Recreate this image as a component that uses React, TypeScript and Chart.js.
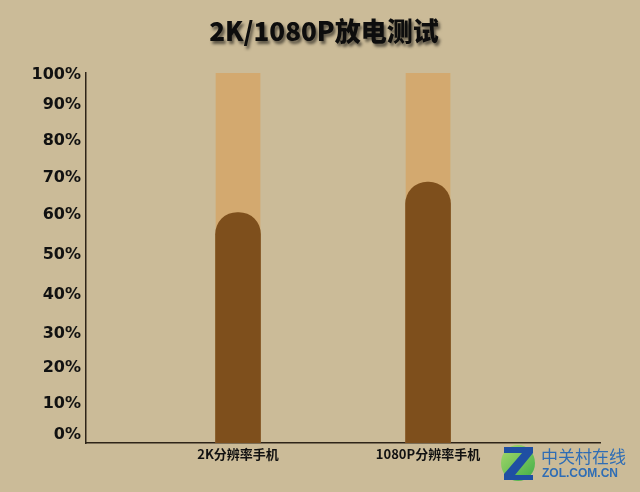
import React, { useEffect, useRef } from "react";
import { Chart, registerables } from "chart.js";

Chart.register(...registerables);

const title = "2K/1080P放电测试";
const categories = ["2K分辨率手机", "1080P分辨率手机"];
const remaining = [62.3, 70.5];
const full = [100, 100];
// tick positions as placed in the picture, with their labels
const yTickValues = [2.2, 10.5, 20.3, 29.5, 40, 50.8, 61.6, 71.6, 81.6, 91.4, 99.5];
const yTickLabels = ["0%", "10%", "20%", "30%", "40%", "50%", "60%", "70%", "80%", "90%", "100%"];

const BG = "#cbbb98";

const decor = {
  id: "decor",
  afterDraw(chart: any) {
    const ctx = chart.ctx as CanvasRenderingContext2D;
    ctx.save();
    // title with shadow
    ctx.font = '900 26px "Noto Sans CJK SC", "DejaVu Sans", sans-serif';
    ctx.textAlign = "center";
    ctx.textBaseline = "middle";
    ctx.shadowColor = "rgba(0,0,0,0.55)";
    ctx.shadowOffsetX = 2;
    ctx.shadowOffsetY = 3;
    ctx.shadowBlur = 3;
    ctx.fillStyle = "#0d0d0d";
    ctx.fillText(title, 324, 31);
    ctx.restore();

    // watermark logo
    ctx.save();
    const lx = 502, ly = 445;
    const g = ctx.createLinearGradient(lx, ly, lx + 32, ly + 36);
    g.addColorStop(0, "#a8d86a");
    g.addColorStop(1, "#3fae49");
    ctx.fillStyle = g;
    ctx.beginPath();
    ctx.ellipse(lx + 16, ly + 18, 17, 18, 0, 0, Math.PI * 2);
    ctx.fill();
    ctx.fillStyle = "#1f4fa3";
    ctx.beginPath();
    ctx.moveTo(lx + 2, ly + 2);
    ctx.lineTo(lx + 31, ly + 2);
    ctx.lineTo(lx + 31, ly + 8);
    ctx.lineTo(lx + 13, ly + 30);
    ctx.lineTo(lx + 31, ly + 30);
    ctx.lineTo(lx + 31, ly + 35);
    ctx.lineTo(lx + 2, ly + 35);
    ctx.lineTo(lx + 2, ly + 29);
    ctx.lineTo(lx + 20, ly + 8);
    ctx.lineTo(lx + 2, ly + 8);
    ctx.closePath();
    ctx.fill();
    ctx.fillStyle = "#2f6db5";
    ctx.textAlign = "left";
    ctx.textBaseline = "middle";
    ctx.font = '17px "Noto Sans CJK SC", sans-serif';
    ctx.fillText("中关村在线", 541, 457);
    ctx.font = 'bold 12px "Liberation Sans", "DejaVu Sans", sans-serif';
    ctx.fillText("ZOL.COM.CN", 542, 474);
    ctx.restore();
  },
};

export default function App() {
  const ref = useRef<HTMLCanvasElement>(null);
  useEffect(() => {
    if (!ref.current) return;
    const chart = new Chart(ref.current, {
      type: "bar",
      data: {
        datasets: [
          {
            label: "remaining",
            data: categories.map((_, i) => ({ x: i + 1, y: remaining[i] })),
            backgroundColor: "#7e4f1c",
            borderRadius: 22,
            borderSkipped: "start",
            barThickness: 45,
            order: 0,
          },
          {
            label: "full",
            data: categories.map((_, i) => ({ x: i + 1, y: full[i] })),
            backgroundColor: "#d3a96f",
            barThickness: 44,
            order: 1,
          },
        ],
      },
      options: {
        responsive: false,
        animation: false,
        devicePixelRatio: 1,
        layout: { padding: { left: 0, right: 40, top: 73, bottom: 0 } },
        plugins: { legend: { display: false }, tooltip: { enabled: false } },
        datasets: { bar: { grouped: false } },
        scales: {
          x: {
            type: "linear",
            min: 0.2,
            max: 2.905,
            offset: false,
            grid: { display: false, drawTicks: false, tickLength: 0 },
            border: { display: true, color: "#2e2418", width: 1.5 },
            afterBuildTicks: (scale: any) => {
              scale.ticks = categories.map((_, i) => ({ value: i + 1 }));
            },
            afterFit: (scale: any) => {
              scale.height = 49;
            },
            ticks: {
              padding: 3,
              color: "#111",
              font: { family: '"Noto Sans CJK SC", sans-serif', size: 13, weight: "bold" },
              maxRotation: 0,
              autoSkip: false,
              callback: (v: any) => categories[Math.round(Number(v)) - 1] ?? "",
            },
          },
          y: {
            min: 0,
            max: 100,
            grid: { display: false, drawTicks: false, tickLength: 0 },
            border: { display: true, color: "#2e2418", width: 1.5 },
            afterBuildTicks: (scale: any) => {
              scale.ticks = yTickValues.map((v) => ({ value: v }));
            },
            afterFit: (scale: any) => {
              scale.width = 86;
            },
            ticks: {
              padding: 5,
              color: "#111",
              font: { family: '"DejaVu Sans", sans-serif', size: 16, weight: "bold" },
              autoSkip: false,
              callback: (v: any) => {
                const idx = yTickValues.indexOf(Number(v));
                return idx >= 0 ? yTickLabels[idx] : "";
              },
            },
          },
        },
      },
      plugins: [decor],
    } as any);
    return () => chart.destroy();
  }, []);
  return (
    <div style={{ position: "fixed", left: 0, top: 0, width: 640, height: 492, background: BG }}>
      <canvas ref={ref} width={640} height={492} style={{ display: "block" }} />
    </div>
  );
}
